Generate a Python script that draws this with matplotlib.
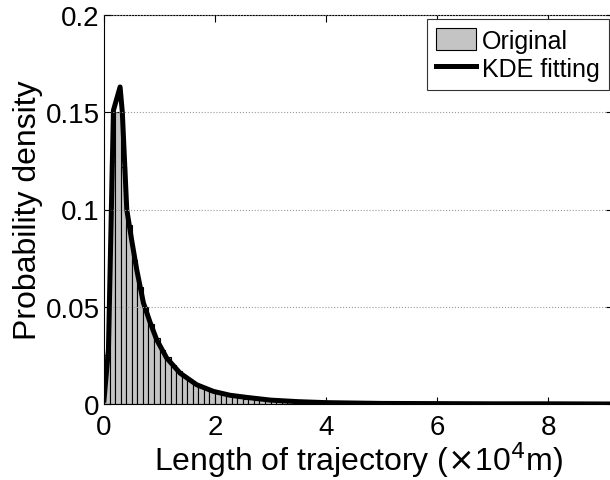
import numpy as np
import matplotlib
matplotlib.use("Agg")
import matplotlib.pyplot as plt

plt.rcParams['font.family'] = ['Liberation Sans', 'DejaVu Sans']

# histogram: probability per 0.1 (x10^4 m) bin
bin_edges = np.round(np.arange(0, 4.01, 0.1), 2)
bin_heights = [0.025, 0.125, 0.150, 0.122, 0.092, 0.074, 0.060, 0.050, 0.041, 0.034,
               0.028, 0.024, 0.020, 0.017, 0.0145, 0.0125, 0.0105, 0.009, 0.0078, 0.0066,
               0.0057, 0.0049, 0.0042, 0.0036, 0.0031, 0.0027, 0.0024, 0.0021, 0.0018, 0.0016,
               0.0014, 0.0012, 0.0011, 0.0009, 0.0008, 0.0007, 0.0006, 0.0005, 0.0005, 0.0004]

# KDE fitted curve
kde_x = [0.0, 0.08, 0.17, 0.29, 0.33, 0.41, 0.50, 0.59, 0.71, 0.83, 0.95, 1.13, 1.37,
         1.67, 1.97, 2.27, 2.57, 3.0, 3.5, 4.0, 5.0, 6.0, 7.0, 8.0, 9.2]
kde_y = [0.002, 0.028, 0.151, 0.163, 0.150, 0.100, 0.084, 0.069, 0.052, 0.042, 0.033,
         0.0236, 0.0159, 0.0099, 0.0065, 0.0045, 0.0034, 0.0020, 0.0012, 0.0007, 0.0003,
         0.0002, 0.0001, 0.0001, 0.0]

fig = plt.figure(figsize=(6.1, 4.81), dpi=100)
ax = fig.add_axes([104/610, 76/481, 509/610, 389/481])

ax.bar(bin_edges[:-1], bin_heights, width=0.1, align='edge',
       facecolor='#c4c4c4', edgecolor='black', linewidth=0.8, label='Original')
ax.plot(kde_x, kde_y, color='black', linewidth=3.6, label='KDE fitting')

ax.set_xlim(0, 9.17)
ax.set_ylim(0, 0.2)
ax.set_xticks([0, 2, 4, 6, 8])
ax.set_yticks([0, 0.05, 0.1, 0.15, 0.2])
ax.set_yticklabels(['0', '0.05', '0.1', '0.15', '0.2'])
ax.yaxis.grid(True, linestyle=':', color='#999999', linewidth=0.8)
ax.set_axisbelow(False)
ax.tick_params(direction='in', length=5, labelsize=20, top=True, right=True)
ax.tick_params(axis='x', pad=7)
ax.tick_params(axis='y', pad=3)

ax.set_xlabel(r'Length of trajectory ($\times$10$^4$m)', fontsize=23, labelpad=0)
ax.set_ylabel('Probability density', fontsize=23, labelpad=2)

handles, labels = ax.get_legend_handles_labels()
order = [labels.index('Original'), labels.index('KDE fitting')]
leg = ax.legend([handles[i] for i in order], [labels[i] for i in order],
                loc='upper right', fontsize=18, fancybox=False, edgecolor='#333333',
                framealpha=1, borderpad=0.36, handlelength=1.6, handleheight=1.0,
                handletextpad=0.25, labelspacing=0.15, borderaxespad=0,
                bbox_to_anchor=(505/509, 385/389))
leg.get_frame().set_linewidth(0.8)

fig.savefig('out.png', dpi=100)
